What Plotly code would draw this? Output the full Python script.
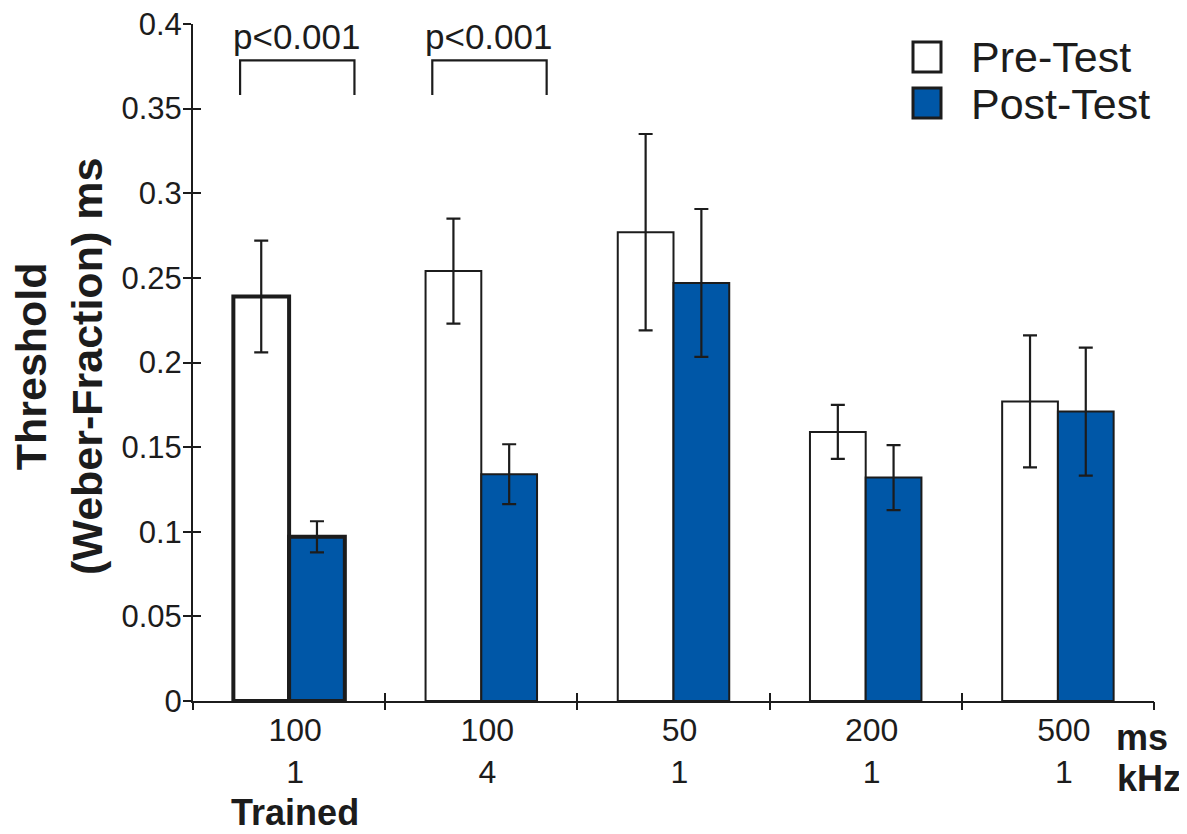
import plotly.graph_objects as go

# ---- data ----
durations = ["100", "100", "50", "200", "500"]
freqs = ["1", "4", "1", "1", "1"]
extra = ["Trained", "", "", "", ""]
pre_values = [0.239, 0.254, 0.277, 0.159, 0.177]
pre_errors = [0.033, 0.031, 0.058, 0.016, 0.039]
post_values = [0.097, 0.134, 0.247, 0.132, 0.171]
post_errors = [0.0092, 0.0177, 0.0437, 0.0192, 0.0378]
y_ticks = [0, 0.05, 0.1, 0.15, 0.2, 0.25, 0.3, 0.35, 0.4]
sig_groups = [0, 1]
sig_label = "p<0.001"

positions = list(range(len(durations)))
ticktext = []
for d, f, e in zip(durations, freqs, extra):
    t = d + "<br>" + f
    if e:
        t += "<br><span style='font-size:36px'><b>" + e + "</b></span>"
    ticktext.append(t)

FONT = "Liberation Sans, Arial, sans-serif"
INK = "#1c1c1c"
BLUE = "#0057A7"

# page has an 8px body margin: compensate so the plot sits where the reference has it
OFF = 8
W, H = 1187 - OFF, 834 - OFF
ML, MR, MT, MB = 193 - OFF, 33, 24 - OFF, 133
PW, PH = W - ML - MR, H - MT - MB


def px(xp):  # page pixel x -> paper
    return (xp - OFF - ML) / PW


def py(yp):  # page pixel y -> paper
    return (H - MB - (yp - OFF)) / PH


line_w = [4 if i == 0 else 2 for i in positions]

fig = go.Figure()
fig.add_trace(go.Bar(
    x=positions, y=pre_values, name="Pre-Test",
    marker=dict(color="white", line=dict(color=INK, width=line_w)),
    error_y=dict(type="data", array=pre_errors, visible=True,
                 color=INK, thickness=2.2, width=7),
    showlegend=False,
))
fig.add_trace(go.Bar(
    x=positions, y=post_values, name="Post-Test",
    marker=dict(color=BLUE, line=dict(color=INK, width=line_w)),
    error_y=dict(type="data", array=post_errors, visible=True,
                 color=INK, thickness=2.2, width=7),
    showlegend=False,
))
# empty helper traces so the overlay tick axes get drawn
for xa, ya in [("x2", "y"), ("x3", "y"), ("x", "y2")]:
    fig.add_trace(go.Scatter(x=[], y=[], xaxis=xa, yaxis=ya,
                             showlegend=False, hoverinfo="skip"))

boundaries = [p - 0.5 for p in positions] + [positions[-1] + 0.5]
xr = [boundaries[0], boundaries[-1]]

fig.update_layout(
    width=W, height=H,
    margin=dict(l=ML, r=MR, t=MT, b=MB, autoexpand=False),
    paper_bgcolor="white", plot_bgcolor="white",
    barmode="group", bargap=0.42, bargroupgap=0,
    font=dict(family=FONT, color=INK),
    xaxis=dict(range=xr, tickvals=positions, ticktext=ticktext,
               ticks="", showline=True, linewidth=2, linecolor=INK,
               showgrid=False, zeroline=False, ticklabelshift=6,
               ticklabelstandoff=0, ticklabeloverflow="allow",
               tickfont=dict(size=32, family=FONT, color=INK)),
    xaxis2=dict(range=xr, overlaying="x", anchor="y", side="bottom",
                tickvals=boundaries, ticks="outside", ticklen=8, tickwidth=2,
                tickcolor=INK, showticklabels=False, showgrid=False,
                zeroline=False, showline=False),
    xaxis3=dict(range=xr, overlaying="x", anchor="y", side="bottom",
                tickvals=boundaries, ticks="inside", ticklen=8, tickwidth=2,
                tickcolor=INK, showticklabels=False, showgrid=False,
                zeroline=False, showline=False),
    yaxis=dict(range=[0, 0.4], tickvals=y_ticks, ticks="outside", ticklen=8,
               tickwidth=2, tickcolor=INK, showline=True, linewidth=2,
               linecolor=INK, showgrid=False, zeroline=False,
               ticklabelstandoff=-5, ticklabeloverflow="allow",
               tickfont=dict(size=31, family=FONT, color=INK)),
    yaxis2=dict(range=[0, 0.4], overlaying="y", anchor="x", side="left",
                tickvals=y_ticks, ticks="inside", ticklen=8, tickwidth=2,
                tickcolor=INK, showticklabels=False, showgrid=False,
                zeroline=False, showline=False),
)

shapes = []
annotations = []
# significance brackets
for g in sig_groups:
    x0, x1 = g - 0.255, g + 0.34
    y_top, y_bot = 0.3785, 0.358
    shapes.append(dict(type="path", xref="x", yref="y",
                       path=f"M {x0},{y_bot} L {x0},{y_top} L {x1},{y_top} L {x1},{y_bot}",
                       line=dict(color=INK, width=2.2)))
    annotations.append(dict(x=(x0 + x1) / 2, y=0.3925, xref="x", yref="y",
                            text=sig_label, showarrow=False,
                            font=dict(size=35, family=FONT, color=INK),
                            xanchor="center", yanchor="middle"))

# legend (custom, large squares)
leg_items = [("Pre-Test", "white", 42, 72, 57), ("Post-Test", BLUE, 88, 118, 104)]
for label, col, yt, yb, yc in leg_items:
    shapes.append(dict(type="rect", xref="paper", yref="paper",
                       x0=px(913), x1=px(941), y0=py(yb), y1=py(yt),
                       fillcolor=col, line=dict(color=INK, width=3)))
    annotations.append(dict(x=px(969), y=py(yc), xref="paper", yref="paper",
                            text=label, showarrow=False, xanchor="left",
                            yanchor="middle",
                            font=dict(size=43, family=FONT, color=INK)))

# unit labels at right
annotations.append(dict(x=px(1114), y=py(737), xref="paper", yref="paper",
                        text="<b>ms</b>", showarrow=False, xanchor="left",
                        yanchor="middle", font=dict(size=36, family=FONT, color=INK)))
annotations.append(dict(x=px(1115), y=py(778), xref="paper", yref="paper",
                        text="<b>kHz</b>", showarrow=False, xanchor="left",
                        yanchor="middle", font=dict(size=36, family=FONT, color=INK)))

# y-axis title
annotations.append(dict(x=px(59), y=py(367), xref="paper", yref="paper",
                        text="<b>Threshold<br>(Weber-Fraction) ms</b>",
                        showarrow=False, textangle=-90, xanchor="center",
                        yanchor="middle",
                        font=dict(size=43, family=FONT, color=INK)))

fig.update_layout(shapes=shapes, annotations=annotations)
fig.write_html("out.html")
